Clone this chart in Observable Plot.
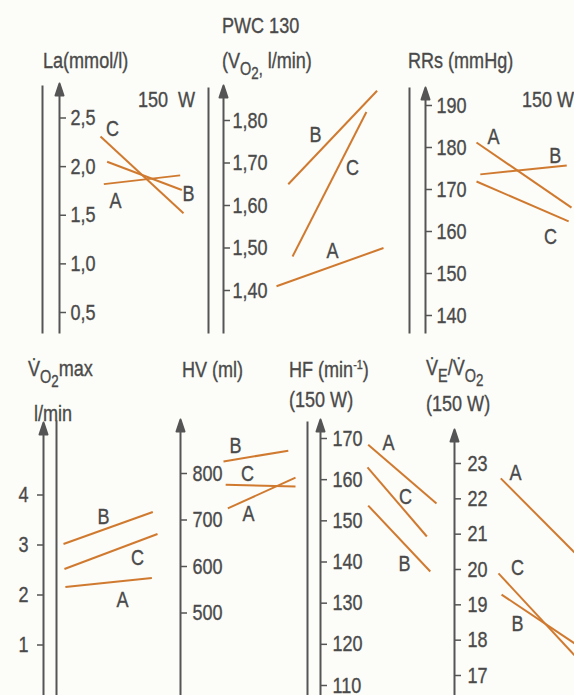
<!DOCTYPE html>
<html><head><meta charset="utf-8">
<script src="https://cdn.jsdelivr.net/npm/d3@7"></script>
<script src="https://cdn.jsdelivr.net/npm/@observablehq/plot@0.6"></script>
<style>
body{margin:0;background:#fcfcf8;}
#chart{position:relative;width:574px;height:695px;background:#fcfcf8;font-family:"Liberation Sans",Arial,sans-serif;color:#4a4a4a;overflow:hidden;}
.t{position:absolute;font-size:22px;line-height:22px;white-space:nowrap;transform:scaleX(0.82);transform-origin:0 50%;-webkit-text-stroke:0.35px #4a4a4a;}
.s1{font-size:0.8em;position:relative;top:0.42em;}
.s2{font-size:0.92em;position:relative;top:0.22em;}
.sp{font-size:0.6em;position:relative;top:-0.6em;}
#chart svg{position:absolute;overflow:visible;}
</style></head>
<body><div id="chart">
<div class="t" style="left:43px;top:50px">La(mmol/l)</div>
<div class="t" style="left:138px;top:89px">150&nbsp; W</div>
<div class="t" style="left:222px;top:15px">PWC 130</div>
<div class="t" style="left:222px;top:50px">(V<span class="s1">O<span class="s2">2</span>,</span> l/min)</div>
<div class="t" style="left:408px;top:50px">RRs (mmHg)</div>
<div class="t" style="left:522px;top:89px">150 W</div>
<div class="t" style="left:28px;top:358px">V&#x307;<span class="s1">O<span class="s2">2</span></span>max</div>
<div class="t" style="left:34px;top:403px">l/min</div>
<div class="t" style="left:182px;top:359px">HV (ml)</div>
<div class="t" style="left:289px;top:359px">HF (min<span class="sp">-1</span>)</div>
<div class="t" style="left:289px;top:389px">(150 W)</div>
<div class="t" style="left:426px;top:357px">V&#x307;<span class="s1">E</span>/V&#x307;<span class="s1">O<span class="s2">2</span></span></div>
<div class="t" style="left:426px;top:393px">(150 W)</div>
</div>
<script>
// ---------------- DATA (groups A, B, C) ----------------
const groups = ["A", "B", "C"];

// La (mmol/l) at 150 W : before -> after
const laPre  = [1.82, 2.05, 2.31];
const laPost = [1.91, 1.76, 1.52];
const laTicks = [0.5, 1.0, 1.5, 2.0, 2.5];

// PWC 130 (VO2, l/min)
const pwcPre  = [1.41, 1.65, 1.48];
const pwcPost = [1.50, 1.87, 1.82];
const pwcTicks = [1.40, 1.50, 1.60, 1.70, 1.80];

// RRs (mmHg) at 150 W
const rrPre  = [181.2, 173.6, 171.9];
const rrPost = [165.7, 175.7, 162.4];
const rrTicks = [140, 150, 160, 170, 180, 190];

// VO2max (l/min)
const vo2Pre  = [2.16, 3.02, 2.52];
const vo2Post = [2.34, 3.66, 3.22];
const vo2Ticks = [1, 2, 3, 4];

// HV (ml)
const hvPre  = [725, 826, 776];
const hvPost = [791, 849, 772];
const hvTicks = [500, 600, 700, 800];

// HF (1/min) at 150 W
const hfPre  = [168.5, 153.7, 163.0];
const hfPost = [154.2, 137.7, 146.2];
const hfTicks = [110, 120, 130, 140, 150, 160, 170];

// VE/VO2 at 150 W
const vePre  = [22.58, 19.29, 19.89];
const vePost = [20.48, 17.91, 17.57];
const veTicks = [17, 18, 19, 20, 21, 22, 23];

// ---------------- LAYOUT (page pixels, unlabelled time axis 0..1) ----------------
const comma = d => String(d.toFixed(1)).replace(".", ",");
const comma2 = d => String(d.toFixed(2)).replace(".", ",");
const intf = d => String(d);

const panels = [
  {pre: laPre, post: laPost, ticks: laTicks, fmt: comma, yDomain: [0.5, 2.5], yPx: [312, 117.5],
   left: 0, top: 0, width: 200, height: 340, axisX: 59, tip: 83, bottom: 333, sepX: 42, sepTop: 85,
   span: [100, 183], side: "right", pad: 5,
   t0: [0.04, 0.08, 0], t1: [0.96, 0.98, 1],
   lab: [[0.18, 1.643], [1.06, 1.716], [0.145, 2.39]]},
  {pre: pwcPre, post: pwcPost, ticks: pwcTicks, fmt: comma2, yDomain: [1.4, 1.8], yPx: [290, 120],
   left: 200, top: 0, width: 200, height: 340, axisX: 223, tip: 85, bottom: 333, sepX: 208, sepTop: 87,
   span: [276, 383], side: "right", pad: 3,
   t0: [0, 0.11, 0.15], t1: [1, 0.94, 0.84],
   lab: [[0.523, 1.494], [0.364, 1.765], [0.71, 1.689]]},
  {pre: rrPre, post: rrPost, ticks: rrTicks, fmt: intf, yDomain: [140, 190], yPx: [315, 105],
   left: 400, top: 0, width: 174, height: 340, axisX: 425, tip: 87, bottom: 333, sepX: 409, sepTop: 87,
   span: [476, 571], side: "right", pad: 5,
   t0: [0, 0.04, 0], t1: [1, 0.95, 0.97],
   lab: [[0.179, 182.4], [0.83, 178.1], [0.78, 158.6]]},
  {pre: vo2Pre, post: vo2Post, ticks: vo2Ticks, fmt: intf, yDomain: [1, 4], yPx: [644.5, 494.5],
   left: 0, top: 340, width: 170, height: 355, axisX: 43, tip: 422, bottom: 695, sepX: 56, sepTop: 420,
   span: [63, 157], side: "left", pad: 9,
   t0: [0.02, 0, 0.01], t1: [0.94, 0.95, 1],
   lab: [[0.628, 1.9], [0.426, 3.56], [0.787, 2.74]]},
  {pre: hvPre, post: hvPost, ticks: hvTicks, fmt: intf, yDomain: [500, 800], yPx: [612.5, 473],
   left: 170, top: 340, width: 130, height: 355, axisX: 180, tip: 419, bottom: 695, sepX: null,
   span: [223, 295], side: "right", pad: 6,
   t0: [0.06, 0, 0.03], t1: [1, 0.90, 1],
   lab: [[0.347, 714], [0.167, 860], [0.333, 800]]},
  {pre: hfPre, post: hfPost, ticks: hfTicks, fmt: intf, yDomain: [110, 170], yPx: [685, 438],
   left: 300, top: 340, width: 145, height: 355, axisX: 320, tip: 419, bottom: 695, sepX: 307, sepTop: 421,
   span: [367, 436], side: "right", pad: 6,
   t0: [0.01, 0.01, 0], t1: [1, 0.91, 0.86],
   lab: [[0.304, 168.8], [0.536, 139.6], [0.551, 155.7]]},
  {pre: vePre, post: vePost, ticks: veTicks, fmt: intf, yDomain: [17, 23], yPx: [675, 463],
   left: 445, top: 340, width: 129, height: 355, axisX: 454, tip: 429, bottom: 695, sepX: null,
   span: [498, 574], side: "right", pad: 7,
   t0: [0.03, 0.04, 0], t1: [1, 1, 1],
   lab: [[0.224, 22.72], [0.25, 18.47], [0.25, 20.03]]}
];

const ink = "#4a4a4a", axisInk = "#555", orange = "#d07a30";
const arrowShape = {draw(ctx, l) {
  ctx.moveTo(0, 0); ctx.lineTo(0, -(l - 10));
  ctx.moveTo(-4, -(l - 12)); ctx.lineTo(0, -l); ctx.lineTo(4, -(l - 12)); ctx.closePath();
}};
const lineShape = {draw(ctx, l) { ctx.moveTo(0, 0); ctx.lineTo(0, -l); }};

const chart = document.getElementById("chart");
for (const p of panels) {
  const L = p.left, T = p.top;
  const rows = groups.map((g, i) => ({group: g, pre: p.pre[i], post: p.post[i], t0: p.t0[i], t1: p.t1[i]}));
  const labs = groups.map((g, i) => ({group: g, x: p.lab[i][0], y: p.lab[i][1]}));
  const ax = p.axisX - L;
  const right = p.side === "right";
  const fa = right ? "bottom-right" : "bottom-left";
  const marks = [
    Plot.axisY(p.ticks, {anchor: p.side, tickSize: 6, tickPadding: p.pad, tickFormat: p.fmt,
      stroke: axisInk, strokeWidth: 1.5, fill: ink, fontSize: 22, label: null}),
    Plot.vector([0], {frameAnchor: fa, length: p.bottom - p.tip, rotate: 0, anchor: "start",
      shape: arrowShape, stroke: axisInk, fill: axisInk, strokeWidth: 2, strokeLinecap: "butt"})
  ];
  if (p.sepX != null) marks.push(Plot.vector([0], {frameAnchor: fa, dx: p.sepX - p.axisX,
      length: p.bottom - p.sepTop, rotate: 0, anchor: "start", shape: lineShape,
      stroke: axisInk, strokeWidth: 2, strokeLinecap: "butt"}));
  marks.push(
    Plot.link(rows, {x1: "t0", y1: "pre", x2: "t1", y2: "post", stroke: orange, strokeWidth: 2}),
    Plot.text(labs, {x: "x", y: "y", text: "group", fill: ink, fontSize: 22})
  );
  const svg = Plot.plot({
    width: p.width, height: p.height,
    marginTop: p.tip - T, marginBottom: T + p.height - p.bottom,
    marginLeft: right ? 0 : ax, marginRight: right ? p.width - ax : 0,
    x: {domain: [0, 1], range: [p.span[0] - L, p.span[1] - L], axis: null},
    y: {domain: p.yDomain, range: [p.yPx[0] - T, p.yPx[1] - T]},
    style: {background: "transparent", fontFamily: '"Liberation Sans",Arial,sans-serif',
      fontSize: "22px", color: ink, overflow: "visible"},
    marks
  });
  // condensed, slightly heavy lettering like the reference: squeeze every text about its anchor
  svg.querySelectorAll("text").forEach(t => {
    const tr = t.getAttribute("transform") || "";
    t.setAttribute("transform", tr + " scale(0.82,1)");
    t.style.stroke = ink;
    t.style.strokeWidth = "0.35px";
  });
  svg.style.left = L + "px";
  svg.style.top = T + "px";
  chart.appendChild(svg);
}
</script>
</body></html>
